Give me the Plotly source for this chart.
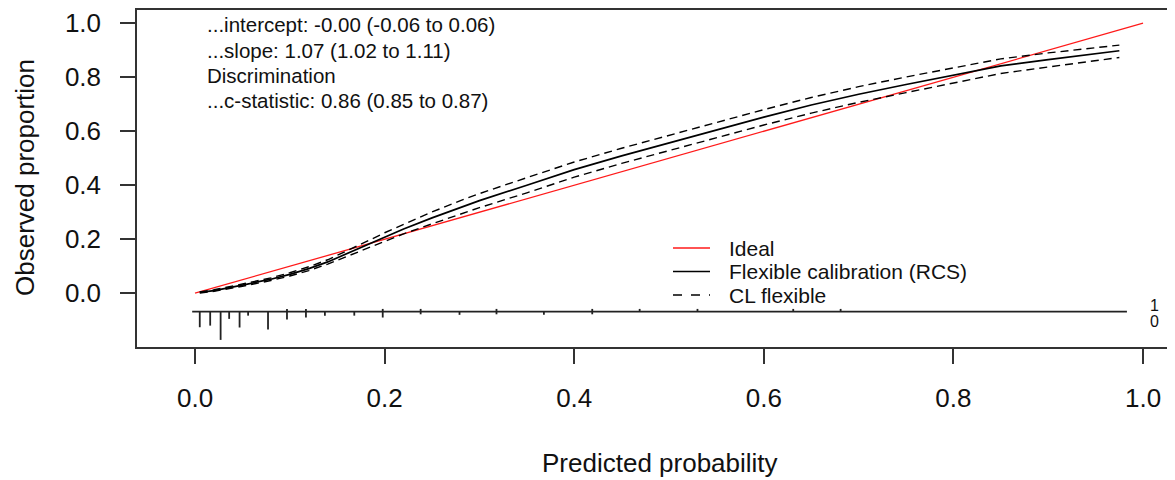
import plotly.graph_objects as go

# ---------------- data ----------------
pred_grid = [0.005, 0.02, 0.05, 0.08, 0.10, 0.12, 0.14, 0.16, 0.18, 0.20, 0.22, 0.25,
             0.28, 0.30, 0.35, 0.40, 0.45, 0.50, 0.55, 0.60, 0.65, 0.70, 0.75, 0.80,
             0.85, 0.90, 0.95, 0.975]
obs_flex = [0.003, 0.010, 0.030, 0.052, 0.070, 0.091, 0.116, 0.146, 0.178, 0.209, 0.238, 0.279,
            0.318, 0.343, 0.400, 0.458, 0.509, 0.557, 0.604, 0.652, 0.697, 0.737, 0.773, 0.808,
            0.842, 0.865, 0.887, 0.898]
ci_upper = [0.005, 0.013, 0.034, 0.057, 0.076, 0.098, 0.124, 0.156, 0.190, 0.224, 0.256, 0.301,
            0.343, 0.369, 0.428, 0.486, 0.537, 0.585, 0.632, 0.680, 0.725, 0.765, 0.801, 0.835,
            0.868, 0.890, 0.910, 0.919]
ci_lower = [0.001, 0.007, 0.026, 0.047, 0.064, 0.084, 0.108, 0.136, 0.166, 0.194, 0.220, 0.257,
            0.293, 0.317, 0.372, 0.430, 0.481, 0.529, 0.576, 0.623, 0.667, 0.707, 0.743, 0.779,
            0.814, 0.838, 0.861, 0.873]

ideal_x = [0.0, 1.0]
ideal_y = [0.0, 1.0]

# distribution of predicted probabilities (rug / mini-histogram)
rug_bins = [0.005, 0.016, 0.027, 0.036, 0.047, 0.056, 0.077, 0.097, 0.117, 0.137, 0.168,
            0.198, 0.238, 0.279, 0.318, 0.368, 0.419, 0.469, 0.530, 0.631, 0.681]
n_events = [0, 0, 0, 0, 0, 0, 0, 10, 10, 0, 0, 10, 10, 0, 10, 0, 10, 10, 10, 10, 10]
n_nonevents = [58, 52, 105, 27, 59, 15, 66, 29, 22, 15, 15, 22, 10, 12, 10, 12, 10, 0, 0, 0, 0]
pred_range = [-0.003, 0.983]
rug_level = -0.068

stats_lines = ["...intercept: -0.00 (-0.06 to 0.06)",
               "...slope: 1.07 (1.02 to 1.11)",
               "Discrimination",
               "...c-statistic: 0.86 (0.85 to 0.87)"]
legend_labels = ["Ideal", "Flexible calibration (RCS)", "CL flexible"]

x_ticks = [0.0, 0.2, 0.4, 0.6, 0.8, 1.0]
y_ticks = [0.0, 0.2, 0.4, 0.6, 0.8, 1.0]

# ---------------- figure ----------------
FONT = "Liberation Sans, Arial, sans-serif"
OFF = 8                      # default page body margin
PAGE_W, PAGE_H = 1175, 480
PL, PT, PB = 137, 10, 347    # plot area in page pixels (right edge = page edge)
W, H = PAGE_W - OFF, PAGE_H - OFF
ML, MT = PL - OFF, PT - OFF
PW, PH = PAGE_W - PL, PB - PT
MR = 0
MB = H - MT - PH


def px_x(p):
    return (p - PL) / PW


def px_y(p):
    return (PB - p) / PH


fig = go.Figure()

fig.add_trace(go.Scatter(x=ideal_x, y=ideal_y, mode="lines",
                         line=dict(color="#ff1a1a", width=1.3), showlegend=False))
fig.add_trace(go.Scatter(x=pred_grid, y=ci_upper, mode="lines",
                         line=dict(color="black", width=1.4, dash="8px,5px"), showlegend=False))
fig.add_trace(go.Scatter(x=pred_grid, y=ci_lower, mode="lines",
                         line=dict(color="black", width=1.4, dash="8px,5px"), showlegend=False))
fig.add_trace(go.Scatter(x=pred_grid, y=obs_flex, mode="lines",
                         line=dict(color="black", width=1.7), showlegend=False))

# rug
maxn = max(max(n_events), max(n_nonevents))
scale = 0.1048
rx, ry = [], []
for xb, n1, n0 in zip(rug_bins, n_events, n_nonevents):
    if n1 > 0:
        rx += [xb, xb, None]
        ry += [rug_level, rug_level + n1 / maxn * scale, None]
    if n0 > 0:
        rx += [xb, xb, None]
        ry += [rug_level, rug_level - n0 / maxn * scale, None]
fig.add_trace(go.Scatter(x=rx, y=ry, mode="lines", line=dict(color="#222", width=1.8),
                         showlegend=False, connectgaps=False))
fig.add_trace(go.Scatter(x=pred_range, y=[rug_level, rug_level], mode="lines",
                         line=dict(color="#222", width=1.6), showlegend=False))

annotations = []
# stats text
stat_y = [25, 50, 75, 100]
for t, yy in zip(stats_lines, stat_y):
    annotations.append(dict(xref="paper", yref="paper", x=px_x(205), y=px_y(yy),
                            text=t, showarrow=False, xanchor="left", yanchor="middle",
                            font=dict(family=FONT, size=20.5, color="#111")))

# legend
leg_y = [248, 271.5, 295]
leg_style = [dict(color="#ff1a1a", width=1.5), dict(color="black", width=1.5),
             dict(color="black", width=1.5, dash="dash")]
shapes = []
for lab, yy, st in zip(legend_labels, leg_y, leg_style):
    shapes.append(dict(type="line", xref="paper", yref="paper",
                       x0=px_x(673), x1=px_x(710), y0=px_y(yy), y1=px_y(yy), line=st))
    annotations.append(dict(xref="paper", yref="paper", x=px_x(727), y=px_y(yy),
                            text=lab, showarrow=False, xanchor="left", yanchor="middle",
                            font=dict(family=FONT, size=21, color="#111")))

# 1 / 0 labels of the rug
for t, yy in zip(["1", "0"], [305.5, 321.5]):
    annotations.append(dict(xref="paper", yref="paper", x=px_x(1154), y=px_y(yy),
                            text=t, showarrow=False, xanchor="center", yanchor="middle",
                            font=dict(family=FONT, size=16, color="#111")))

# axis titles
annotations.append(dict(xref="paper", yref="paper", x=px_x(660), y=px_y(463),
                        text="Predicted probability", showarrow=False,
                        xanchor="center", yanchor="middle",
                        font=dict(family=FONT, size=26, color="#111")))
annotations.append(dict(xref="paper", yref="paper", x=px_x(25), y=px_y(178),
                        text="Observed proportion", showarrow=False, textangle=-90,
                        xanchor="center", yanchor="middle",
                        font=dict(family=FONT, size=26, color="#111")))

fig.update_layout(
    width=W, height=H,
    margin=dict(l=ML, r=MR, t=MT, b=MB, pad=0),
    paper_bgcolor="white", plot_bgcolor="white",
    showlegend=False,
    annotations=annotations, shapes=shapes,
    xaxis=dict(range=[-0.0612, 1.0337], tickvals=x_ticks, tickformat=".1f",
               ticks="outside", ticklen=15, tickwidth=1.5, tickcolor="#333",
               ticklabelstandoff=12,
               showline=True, mirror=True, linecolor="#333", linewidth=1.5,
               showgrid=False, zeroline=False,
               tickfont=dict(family=FONT, size=26, color="#111")),
    yaxis=dict(range=[-0.1991, 1.049], tickvals=y_ticks, tickformat=".1f",
               ticks="outside", ticklen=15, tickwidth=1.5, tickcolor="#333",
               ticklabelstandoff=14,
               showline=True, mirror=False, linecolor="#333", linewidth=1.5,
               showgrid=False, zeroline=False,
               tickfont=dict(family=FONT, size=26, color="#111")),
)

fig.write_html("out.html")
